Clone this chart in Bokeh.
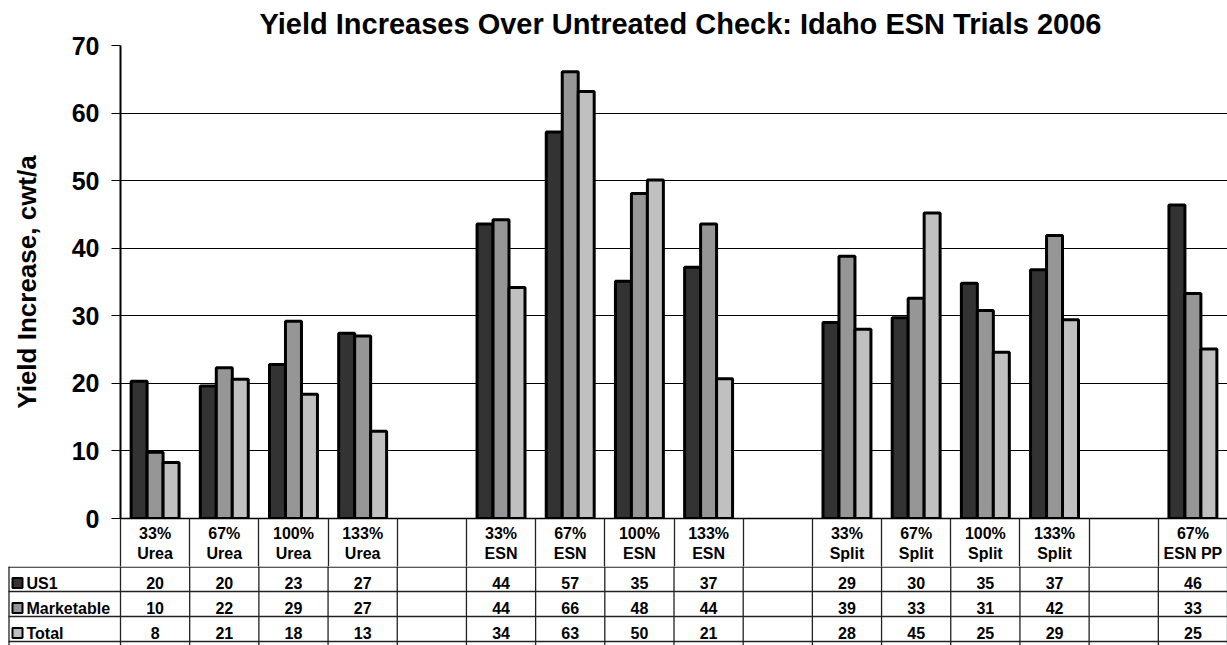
from bokeh.plotting import figure
from bokeh.models import Range1d, FixedTicker, ColumnDataSource, Title
from bokeh.core.properties import value
from bokeh.embed import file_html
from bokeh.resources import INLINE

# ---------------- data ----------------
title_text = "Yield Increases Over Untreated Check: Idaho ESN Trials 2006"
y_label = "Yield Increase, cwt/a"
categories = ["33%\nUrea", "67%\nUrea", "100%\nUrea", "133%\nUrea", "",
              "33%\nESN", "67%\nESN", "100%\nESN", "133%\nESN", "",
              "33%\nSplit", "67%\nSplit", "100%\nSplit", "133%\nSplit", "",
              "67%\nESN PP"]
series_names = ["US1", "Marketable", "Total"]
us1 = [20.3, 19.6, 22.8, 27.4, None, 43.6, 57.2, 35.1, 37.2, None,
       29.0, 29.7, 34.8, 36.8, None, 46.4]
marketable = [9.8, 22.3, 29.2, 27.0, None, 44.2, 66.1, 48.1, 43.6, None,
              38.8, 32.6, 30.8, 41.9, None, 33.3]
total = [8.3, 20.6, 18.4, 12.9, None, 34.2, 63.2, 50.1, 20.7, None,
         28.0, 45.2, 24.6, 29.4, None, 25.1]
y_ticks = [0, 10, 20, 30, 40, 50, 60, 70]
colors = ["#333333", "#969696", "#C0C0C0"]

FONT = value("Liberation Sans")
series = [us1, marketable, total]
ncat = len(categories)

# ---------------- chart (with category row of the table as x axis) ----------------
W = 1227
LEFT = 120
TOP = 45
FRAME_H = 473
CAT_H = 48
p1 = figure(width=W, height=TOP + FRAME_H + CAT_H,
            x_range=Range1d(0, ncat), y_range=Range1d(y_ticks[0], y_ticks[-1]),
            output_backend="svg", toolbar_location=None,
            min_border_left=LEFT, min_border_right=0, min_border_top=TOP, min_border_bottom=CAT_H)
p1.title = Title(text=title_text, align="left", text_font="Liberation Sans",
                 text_font_size="29px", text_font_style="bold", text_color="black",
                 standoff=11, offset=139)
p1.outline_line_color = None
p1.background_fill_color = "white"
p1.xgrid.visible = False
p1.ygrid.grid_line_color = "black"
p1.ygrid.grid_line_width = 1
p1.ygrid.ticker = FixedTicker(ticks=y_ticks)

p1.yaxis.ticker = FixedTicker(ticks=y_ticks)
p1.yaxis.axis_label = y_label
p1.yaxis.axis_label_text_font = "Liberation Sans"
p1.yaxis.axis_label_text_font_size = "26px"
p1.yaxis.axis_label_text_font_style = "bold"
p1.yaxis.axis_label_text_color = "black"
p1.yaxis.axis_label_standoff = 27
p1.yaxis.major_label_text_font = "Liberation Sans"
p1.yaxis.major_label_text_font_size = "25px"
p1.yaxis.major_label_text_font_style = "bold"
p1.yaxis.major_label_text_color = "black"
p1.yaxis.major_label_standoff = 12
p1.yaxis.major_tick_out = 9
p1.yaxis.major_tick_in = 0
p1.yaxis.minor_tick_line_color = None
p1.yaxis.axis_line_color = "black"
p1.yaxis.axis_line_width = 2
p1.yaxis.major_tick_line_color = "black"
p1.yaxis.major_tick_line_width = 1

# x axis: category labels at column centres, separators as minor ticks
label_pos = [i + 0.5 for i, c in enumerate(categories) if c]
p1.xaxis.ticker = FixedTicker(ticks=label_pos, minor_ticks=list(range(ncat + 1)))
p1.xaxis.major_label_overrides = {i + 0.5: c for i, c in enumerate(categories) if c}
p1.xaxis.major_label_text_font = "Liberation Sans"
p1.xaxis.major_label_text_font_size = "16px"
p1.xaxis.major_label_text_font_style = "bold"
p1.xaxis.major_label_text_color = "black"
p1.xaxis.major_label_standoff = 6 - CAT_H
p1.xaxis.major_tick_out = 0
p1.xaxis.major_tick_in = 0
p1.xaxis.major_tick_line_color = None
p1.xaxis.minor_tick_out = CAT_H
p1.xaxis.minor_tick_in = 0
p1.xaxis.minor_tick_line_color = "#222222"
p1.xaxis.minor_tick_line_width = 1.3
p1.xaxis.axis_line_color = "black"
p1.xaxis.axis_line_width = 1.5

bw = 0.231
offsets = [-bw, 0.0, bw]
for j, (name, vals, col) in enumerate(zip(series_names, series, colors)):
    idx = [i for i, v in enumerate(vals) if v is not None]
    src = ColumnDataSource(dict(x=[i + 0.5 + offsets[j] for i in idx],
                                top=[vals[i] for i in idx]))
    p1.vbar(x="x", top="top", bottom=0, width=bw, source=src,
            fill_color=col, line_color="black", line_width=3)

# ---------------- data table rows ----------------
ppu = (W - LEFT) / ncat
x0 = -LEFT / ppu
TH = 645 - (TOP + FRAME_H + CAT_H)
p2 = figure(width=W, height=TH, x_range=Range1d(x0, ncat), y_range=Range1d(-CAT_H - TH, -CAT_H),
            output_backend="svg", toolbar_location=None,
            x_axis_location=None, y_axis_location=None, min_border=0,
            min_border_left=0, min_border_right=0, min_border_top=0, min_border_bottom=0)
p2.outline_line_color = None
p2.xgrid.visible = False
p2.ygrid.visible = False

row_h = 25
line_col = "#222222"
ybot = -CAT_H - TH - 5
bx = list(range(ncat + 1))
p2.segment(x0=bx, y0=[-CAT_H + 2] * len(bx), x1=bx, y1=[ybot] * len(bx), line_color=line_col, line_width=1.3)
p2.segment(x0=[x0 + 8.5 / ppu], y0=[-CAT_H], x1=[x0 + 8.5 / ppu], y1=[ybot], line_color=line_col, line_width=1.3)
hy = [-CAT_H - 0.7] + [-CAT_H - k * row_h for k in range(1, len(series_names) + 1)]
p2.segment(x0=[x0 + 8 / ppu] * len(hy), y0=hy, x1=[ncat] * len(hy), y1=hy, line_color=line_col, line_width=1.3)

for j, (name, vals, col) in enumerate(zip(series_names, series, colors)):
    yc = -CAT_H - j * row_h - 16.5
    idx = [i for i, v in enumerate(vals) if v is not None]
    p2.text(x=[i + 0.5 for i in idx], y=[yc] * len(idx), text=[f"{vals[i]:.0f}" for i in idx],
            text_align="center", text_baseline="middle", text_font=FONT,
            text_font_size="16px", text_font_style="bold", text_color="black")
    p2.rect(x=[x0 + 17 / ppu], y=[yc], width=10, height=10, width_units="screen",
            height_units="screen", fill_color=col, line_color="black", line_width=2)
    p2.text(x=[x0 + 26 / ppu], y=[yc], text=[name], text_align="left", text_baseline="middle",
            text_font=FONT, text_font_size="16px", text_font_style="bold", text_color="black")

open("out.html", "w").write(file_html([p1, p2], INLINE))
